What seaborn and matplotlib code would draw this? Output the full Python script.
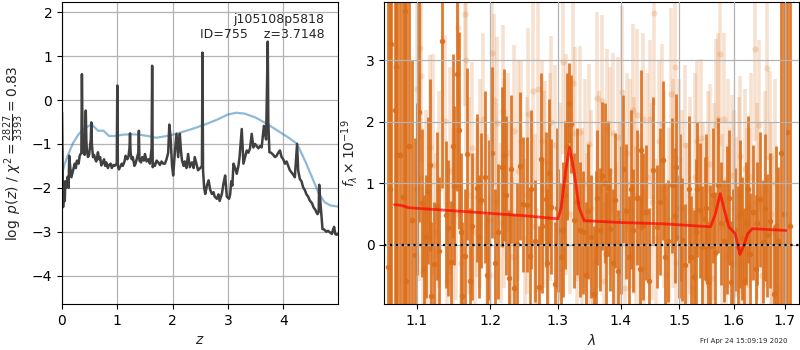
import numpy as np
import pandas as pd
import seaborn as sns
import matplotlib
matplotlib.use('Agg')
import matplotlib.pyplot as plt
from matplotlib.ticker import ScalarFormatter, NullLocator

# --- left panel: log p(z) and prior
z_grid = [0.0, 0.02, 0.03, 0.05, 0.06, 0.08, 0.10, 0.12, 0.13, 0.15, 0.17, 0.20, 0.23, 0.25,
          0.27, 0.30, 0.32, 0.35, 0.36, 0.37, 0.38, 0.41, 0.43, 0.44, 0.45, 0.47, 0.49, 0.52,
          0.53, 0.54, 0.56, 0.58, 0.60, 0.62, 0.65, 0.67, 0.69, 0.71, 0.74, 0.76, 0.78, 0.80,
          0.83, 0.85, 0.88, 0.90, 0.93, 0.95, 0.99, 1.00, 1.01, 1.03, 1.05, 1.08, 1.10, 1.13,
          1.15, 1.18, 1.20, 1.22, 1.23, 1.24, 1.26, 1.28, 1.31, 1.33, 1.36, 1.38, 1.39, 1.40,
          1.43, 1.45, 1.48, 1.50, 1.53, 1.56, 1.59, 1.62, 1.63, 1.64, 1.66, 1.68, 1.71, 1.74,
          1.77, 1.80, 1.83, 1.86, 1.89, 1.92, 1.94, 1.96, 1.99, 2.01, 2.04, 2.07, 2.10, 2.13,
          2.15, 2.17, 2.20, 2.22, 2.25, 2.28, 2.31, 2.35, 2.38, 2.40, 2.43, 2.46, 2.50, 2.53,
          2.54, 2.55, 2.57, 2.59, 2.62, 2.65, 2.68, 2.71, 2.74, 2.76, 2.80, 2.83, 2.85, 2.89,
          2.92, 2.95, 2.98, 3.02, 3.04, 3.06, 3.08, 3.10, 3.13, 3.16, 3.19, 3.21, 3.25, 3.28,
          3.31, 3.34, 3.37, 3.40, 3.43, 3.46, 3.49, 3.52, 3.55, 3.58, 3.61, 3.65, 3.69, 3.71,
          3.72, 3.73, 3.75, 3.78, 3.82, 3.85, 3.88, 3.91, 3.94, 3.97, 4.00, 4.03, 4.06, 4.09,
          4.12, 4.15, 4.18, 4.21, 4.25, 4.27, 4.30, 4.33, 4.36, 4.39, 4.42, 4.45, 4.48, 4.52,
          4.55, 4.58, 4.60, 4.62, 4.64, 4.65, 4.67, 4.71, 4.74, 4.78, 4.81, 4.85, 4.88, 4.90,
          4.92, 4.94, 4.96, 4.99]
log_pz = [-0.28, -2.44, -2.1, -2.3, -1.85, -1.99, -1.75, -2.0, -1.27, -1.55, -1.76, -1.6, -1.45, -1.55,
          -1.38, -1.45, -1.27, -1.2, 0.59, -0.6, -1.19, -1.25, -0.24, -0.9, -1.15, -1.3, -1.25, -0.9,
          -0.51, -1.0, -1.3, -1.25, -1.35, -1.4, -1.19, -1.35, -1.3, -1.49, -1.42, -1.35, -1.5, -1.42,
          -1.55, -1.48, -1.45, -1.55, -1.48, -1.5, -1.45, 0.33, -1.5, -1.58, -1.53, -1.45, -1.5, -1.4,
          -1.27, -1.35, -1.3, -1.1, -0.76, -1.2, -1.35, -1.3, -1.5, -1.45, -1.3, -1.2, -0.70, -1.38,
          -1.42, -1.3, -1.38, -1.23, -1.4, -1.35, -1.45, -1.1, 0.78, -1.53, -1.45, -1.5, -1.38, -1.42,
          -1.48, -1.4, -1.45, -1.45, -1.35, -1.2, -0.56, -0.8, -1.5, -1.72, -1.2, -0.77, -1.3, -0.77,
          -1.15, -1.38, -1.5, -1.4, -1.55, -1.23, -1.53, -1.42, -1.55, -1.3, -1.45, -1.6, -1.55, -1.5,
          1.08, -1.6, -2.0, -2.14, -1.95, -1.83, -2.05, -2.14, -2.1, -2.2, -2.25, -2.15, -2.3, -2.14,
          -1.9, -1.72, -2.2, -2.25, -2.15, -1.85, -1.95, -1.45, -1.55, -1.68, -1.5, -1.3, -0.66, -1.45,
          -1.3, -1.15, -1.2, -1.1, -0.77, -1.08, -1.0, -1.05, -1.1, -1.05, -1.08, -0.59, -0.9, 0.6,
          1.33, -0.5, -1.19, -1.2, -1.25, -1.3, -1.27, -1.2, -1.15, -1.3, -1.35, -1.45, -1.4, -1.5,
          -1.6, -1.65, -1.7, -1.76, -1.0, -1.6, -1.8, -1.85, -1.99, -2.05, -2.15, -2.2, -2.29, -2.35,
          -2.45, -2.5, -2.56, -2.6, -2.55, -1.93, -2.3, -2.94, -2.95, -3.0, -2.98, -3.02, -3.05, -2.95,
          -2.89, -3.05, -3.07, -3.05]

z_prior = [0.0, 0.05, 0.10, 0.20, 0.30, 0.40, 0.50, 0.55, 0.65, 0.75, 0.85, 0.95, 1.10, 1.25,
           1.40, 1.55, 1.70, 1.85, 2.00, 2.20, 2.40, 2.60, 2.80, 3.00, 3.15, 3.30, 3.50, 3.70,
           3.90, 4.00, 4.10, 4.25, 4.40, 4.55, 4.65, 4.75, 4.85, 5.00]
log_prior = [-1.70, -1.45, -1.28, -0.98, -0.78, -0.65, -0.58, -0.57, -0.70, -0.70, -0.82, -0.82, -0.79, -0.78,
             -0.79, -0.82, -0.86, -0.83, -0.79, -0.72, -0.64, -0.55, -0.45, -0.33, -0.29, -0.31, -0.40, -0.54,
             -0.70, -0.78, -0.86, -1.00, -1.40, -1.85, -2.15, -2.33, -2.40, -2.43]

# --- right panel: spectrum (dark = primary, light = secondary) and model
lam_dark = [1.0635, 1.0678, 1.0720, 1.0755, 1.0790, 1.0820, 1.0854, 1.0897, 1.0940, 1.0980,
            1.1037, 1.1074, 1.1128, 1.1150, 1.1196, 1.1232, 1.1272, 1.1340, 1.1387, 1.1422,
            1.1459, 1.1504, 1.1536, 1.1568, 1.1613, 1.1650, 1.1681, 1.1750, 1.1809, 1.1845,
            1.1877, 1.1950, 1.2024, 1.2114, 1.2164, 1.2203, 1.2263, 1.2303, 1.2388, 1.2437,
            1.2478, 1.2527, 1.2576, 1.2651, 1.2710, 1.2761, 1.2811, 1.2860, 1.2900, 1.2949,
            1.3000, 1.3079, 1.3104, 1.3167, 1.3199, 1.3253, 1.3341, 1.3395, 1.3474, 1.3526,
            1.3569, 1.3621, 1.3657, 1.3695, 1.3763, 1.3799, 1.3831, 1.3910, 1.3957, 1.4047,
            1.4092, 1.4144, 1.4203, 1.4277, 1.4347, 1.4421, 1.4549, 1.4607, 1.4723, 1.4809,
            1.4879, 1.4924, 1.4953, 1.4993, 1.5054, 1.5113, 1.5209, 1.5263, 1.5329, 1.5371,
            1.5414, 1.5461, 1.5522, 1.5569, 1.5612, 1.5653, 1.5712, 1.5761, 1.5820, 1.5910,
            1.5953, 1.6033, 1.6077, 1.6160, 1.6245, 1.6309, 1.6375, 1.6452, 1.6516, 1.6568,
            1.6646, 1.6710, 1.6774, 1.6871, 1.6923, 1.6981, 1.7045, 1.7100,
            1.1010, 1.1100, 1.1170, 1.1300, 1.1480, 1.1590, 1.1720, 1.1920, 1.1990, 1.2070,
            1.2230, 1.2350, 1.2600, 1.2740, 1.2830, 1.2980, 1.3050, 1.3140, 1.3300, 1.3440,
            1.3600, 1.3740, 1.3880, 1.4010, 1.4180, 1.4320, 1.4380, 1.4480, 1.4660, 1.4760,
            1.5020, 1.5170, 1.5300, 1.5490, 1.5870, 1.5990, 1.6120, 1.6200, 1.6280, 1.6420,
            1.6600, 1.6820, 1.0660, 1.0740, 1.0870]
flux_dark = [-0.37, 3.27, 2.20, 1.46, 1.46, 0.78, 3.80, 1.60, 0.40, -0.17,
             2.16, 0.68, 0.13, 0.88, -0.83, -0.31, 0.63, 3.32, 0.49, 0.27,
             -0.29, 0.96, 2.78, 1.86, -0.84, -0.19, 1.47, 0.30, 0.92, 0.13,
             0.72, -0.50, 1.50, 0.21, 1.26, 1.46, -0.54, 1.23, 0.01, 1.28,
             0.66, 0.65, -0.19, 0.06, -0.69, 0.31, 0.74, 1.17, 0.62, -0.64,
             0.23, 0.24, 0.81, 2.30, 1.97, 0.40, 0.24, 0.20, 0.54, 0.13,
             -0.80, 0.76, 0.24, 1.12, -0.15, 0.92, 0.25, 0.72, -0.43, 1.23,
             0.54, -0.21, 0.23, 0.76, 1.54, 0.53, 1.21, 0.29, 1.37, 0.06,
             0.97, 0.47, 1.26, 0.13, 0.08, -0.34, -0.21, -0.53, 0.90, 0.56,
             -0.04, 0.42, -0.61, -0.03, 0.80, -0.14, 0.97, 0.35, 0.06, 0.76,
             -0.61, 0.24, -0.04, 0.10, 0.35, -0.16, 0.53, 0.35, 0.74, 0.05,
             0.15, 0.39, -0.80, 0.06, 1.50, 0.50, 1.83, 0.30,
             0.90, -0.40, 1.30, -0.10, 1.60, 0.20, -0.60, 1.10, 0.40, -0.30,
             0.80, -0.70, 0.90, 1.40, -0.30, 0.60, -0.20, 1.60, 0.70, -0.50,
             0.00, 1.00, -0.30, 0.40, 0.90, -0.40, 0.30, -0.60, 0.70, -0.20,
             0.60, 0.90, 0.20, 0.60, 0.40, -0.30, 0.50, -0.60, 0.90, -0.40,
             0.60, 0.30, 0.90, 2.90, -0.60]
err_dark = [5.0, 5.0, 5.0, 5.0, 5.0, 5.0, 5.0, 5.0, 2.6, 1.9,
            1.8, 1.2, 1.0, 1.2, 1.2, 1.0, 1.2, 2.4, 1.2, 1.1,
            1.0, 1.3, 1.9, 1.6, 1.2, 1.1, 1.4, 1.2, 1.2, 1.0,
            1.1, 1.0, 1.4, 1.1, 1.3, 1.4, 1.1, 1.2, 1.0, 1.2,
            1.1, 1.1, 1.1, 1.0, 1.0, 1.1, 1.1, 1.2, 1.1, 1.0,
            1.0, 1.1, 1.2, 0.65, 0.8, 1.1, 1.1, 1.0, 1.1, 1.0,
            1.1, 1.1, 1.0, 1.2, 1.0, 1.1, 1.0, 1.1, 1.0, 1.2,
            1.1, 1.0, 1.0, 1.1, 1.3, 1.1, 1.2, 1.0, 1.3, 1.0,
            1.1, 1.1, 1.2, 1.0, 1.0, 1.0, 1.0, 1.1, 1.1, 1.1,
            1.0, 1.0, 1.0, 1.0, 1.1, 1.0, 1.1, 1.0, 1.0, 1.1,
            1.0, 1.0, 1.0, 1.0, 1.0, 1.0, 1.1, 1.0, 1.1, 1.0,
            1.0, 1.1, 1.1, 1.2, 2.8, 5.0, 5.0, 5.0,
            1.4, 1.2, 1.4, 1.2, 1.5, 1.3, 1.2, 1.4, 1.3, 1.2,
            1.3, 1.2, 1.3, 1.4, 1.2, 1.3, 1.2, 1.2, 1.2, 1.2,
            1.2, 1.3, 1.2, 1.2, 1.3, 1.2, 1.2, 1.2, 1.2, 1.2,
            1.2, 1.2, 1.2, 1.2, 1.2, 1.2, 1.2, 1.2, 1.2, 1.2,
            1.2, 1.3, 5.0, 5.0, 5.0]

lam_light = [1.1000, 1.1050, 1.1060, 1.1080, 1.1170, 1.1180, 1.1250, 1.1370, 1.1400, 1.1520,
             1.1550, 1.1600, 1.1650, 1.1660, 1.1740, 1.1780, 1.1820, 1.1900, 1.2000, 1.2030,
             1.2050, 1.2100, 1.2150, 1.2180, 1.2260, 1.2320, 1.2350, 1.2450, 1.2500, 1.2550,
             1.2620, 1.2680, 1.2700, 1.2760, 1.2810, 1.2850, 1.2900, 1.2950, 1.3000, 1.3080,
             1.3180, 1.3230, 1.3270, 1.3300, 1.3350, 1.3450, 1.3490, 1.3550, 1.3610, 1.3690,
             1.3720, 1.3780, 1.3880, 1.3920, 1.3960, 1.4030, 1.4070, 1.4110, 1.4200, 1.4250,
             1.4280, 1.4370, 1.4400, 1.4500, 1.4570, 1.4600, 1.4650, 1.4710, 1.4780, 1.4860,
             1.4930, 1.4950, 1.5000, 1.5100, 1.5150, 1.5250, 1.5320, 1.5390, 1.5500, 1.5560,
             1.5600, 1.5670, 1.5710, 1.5750, 1.5820, 1.5850, 1.5970, 1.6050, 1.6130, 1.6150,
             1.6220, 1.6300, 1.6410, 1.6480, 1.6550, 1.6650, 1.6700, 1.6750, 1.6850,
             1.1030, 1.1120, 1.1210, 1.1290, 1.1440, 1.1490, 1.1700, 1.1860, 1.1960, 1.2080,
             1.2200, 1.2290, 1.2400, 1.2530, 1.2650, 1.2790, 1.2880, 1.3030, 1.3130, 1.3380,
             1.3420, 1.3520, 1.3650, 1.3820, 1.3990, 1.4150, 1.4230, 1.4330, 1.4450, 1.4530,
             1.4740, 1.4830, 1.4900, 1.5050, 1.5200, 1.5280, 1.5440, 1.5530, 1.5640, 1.5780,
             1.5900, 1.6000, 1.6100, 1.6260, 1.6340, 1.6450, 1.6600, 1.6730, 1.6800]
flux_light = [2.53, 3.20, 2.74, -0.45, -0.05, 1.59, 0.20, 2.01, -0.60, 0.50,
              3.53, -0.30, 3.75, 3.01, 1.58, 0.20, 0.77, 2.04, -0.50, 3.12,
              2.35, 1.98, 0.35, 2.17, 1.50, -0.20, 1.85, 1.69, 0.10, 2.12,
              2.50, -0.70, 2.54, 1.69, 1.36, 0.05, 2.00, 1.62, -0.40, 2.98,
              0.50, 2.64, 1.82, -0.55, 1.84, 0.20, 1.64, -0.30, 2.39, 2.34,
              -0.60, 1.89, 1.82, 0.05, 1.75, 2.49, -0.70, 1.50, 2.20, 0.30,
              2.11, 2.04, -0.40, 2.04, 3.77, 0.10, 1.69, 1.97, -0.50, 2.46,
              2.90, -0.30, 1.39, 1.63, 0.35, -0.70, 1.69, 1.73, 0.15, 1.31,
              -0.55, 1.95, 2.05, 3.10, 2.04, -0.20, 1.14, 0.45, 1.44, -0.30,
              1.23, 0.60, 3.19, 1.94, -0.50, 2.88, 1.42, 0.20, -0.70,
              1.10, 0.60, 1.30, 0.90, 1.20, 0.40, 0.80, 1.00, 0.30, 0.70,
              1.00, 0.50, 1.20, 0.80, 0.30, 0.90, 1.10, 0.70, 1.30, 0.40,
              1.00, 0.60, 0.90, 1.20, 0.50, 1.00, 0.80, 0.30, 1.10, 0.70,
              0.90, 0.40, 1.00, 0.60, 0.80, 1.10, 0.50, 0.90, 0.70, 0.30,
              1.00, 0.60, 0.80, 0.40, 1.10, 0.70, 0.90, 0.50, 1.00]
err_light = [1.6, 1.5, 1.4, 1.4, 1.3, 1.5, 1.3, 1.4, 1.3, 1.4,
             1.6, 1.3, 1.5, 1.5, 1.4, 1.3, 1.3, 1.4, 1.3, 1.5,
             1.4, 1.4, 1.3, 1.4, 1.3, 1.3, 1.4, 1.3, 1.3, 1.4,
             1.5, 1.3, 1.5, 1.3, 1.3, 1.3, 1.4, 1.3, 1.3, 1.5,
             1.3, 1.5, 1.4, 1.3, 1.4, 1.3, 1.3, 1.3, 1.4, 1.4,
             1.3, 1.3, 1.3, 1.3, 1.3, 1.4, 1.3, 1.3, 1.4, 1.3,
             1.4, 1.4, 1.3, 1.3, 1.5, 1.3, 1.3, 1.3, 1.3, 1.4,
             1.5, 1.3, 1.3, 1.3, 1.3, 1.3, 1.3, 1.3, 1.3, 1.3,
             1.3, 1.4, 1.4, 1.5, 1.4, 1.3, 1.3, 1.3, 1.3, 1.3,
             1.3, 1.3, 1.5, 1.4, 1.3, 1.5, 1.4, 1.3, 1.4,
             1.7, 1.6, 1.8, 1.6, 1.7, 1.5, 1.6, 1.7, 1.5, 1.6,
             1.7, 1.5, 1.8, 1.6, 1.5, 1.6, 1.7, 1.6, 1.8, 1.5,
             1.7, 1.6, 1.6, 1.7, 1.5, 1.7, 1.6, 1.5, 1.7, 1.6,
             1.6, 1.5, 1.7, 1.6, 1.6, 1.7, 1.5, 1.6, 1.6, 1.5,
             1.7, 1.6, 1.6, 1.5, 1.7, 1.6, 1.6, 1.5, 1.7]

lam_model = [1.0715, 1.0800, 1.0905, 1.1500, 1.2500, 1.3000, 1.3050, 1.3120, 1.3180, 1.3250,
             1.3330, 1.3410, 1.4000, 1.4690, 1.5570, 1.5660, 1.5750, 1.5830, 1.5910, 1.6030,
             1.6120, 1.6200, 1.6270, 1.6360, 1.7020]
flux_model = [0.65, 0.64, 0.60, 0.55, 0.47, 0.42, 0.60, 1.20, 1.58, 1.20,
              0.60, 0.39, 0.36, 0.34, 0.29, 0.50, 0.83, 0.55, 0.29, 0.18,
              -0.16, 0.00, 0.18, 0.26, 0.23]

title_lines = 'j105108p5818\nID=755    z=3.7148'
timestamp = 'Fri Apr 24 15:09:19 2020'

sns.set_style('ticks')
plt.rcParams['font.family'] = ['DejaVu Sans']
plt.rcParams['axes.edgecolor'] = 'black'
plt.rcParams['xtick.color'] = 'black'
plt.rcParams['ytick.color'] = 'black'

fig = plt.figure(figsize=(8, 3.5), dpi=100)
ax1 = fig.add_axes([0.0775, 0.131, 0.345, 0.863])
ax2 = fig.add_axes([0.4805, 0.131, 0.5185, 0.863])

pz = pd.DataFrame({'z': z_grid, 'logp': log_pz})
pr = pd.DataFrame({'z': z_prior, 'logp': log_prior})
sns.lineplot(data=pr, x='z', y='logp', ax=ax1, color='tab:blue', alpha=0.5, lw=1.6)
sns.lineplot(data=pz, x='z', y='logp', ax=ax1, color='0.25', lw=1.8)
ax1.set_xlim(0, 4.99)
ax1.set_ylim(-4.65, 2.23)
ax1.set_xticks([0, 1, 2, 3, 4])
ax1.set_yticks([-4, -3, -2, -1, 0, 1, 2])
ax1.grid(True, color='0.7', lw=0.9)
ax1.set_xlabel('$z$')
ax1.set_ylabel(r'$\log\ p(z)$ / $\chi^2=\frac{2827}{3393}=0.83$')
ax1.text(0.95, 0.965, title_lines, ha='right', va='top', transform=ax1.transAxes, fontsize=9)

orange = (0.86, 0.43, 0.1)
ax2.errorbar(lam_light, flux_light, yerr=err_light, fmt='o', color=orange, alpha=0.2,
             ms=4.5, elinewidth=2.6, capsize=0, mec='none')
ax2.errorbar(lam_dark, flux_dark, yerr=err_dark, fmt='o', color=orange, alpha=0.9,
             ms=4, elinewidth=2.0, capsize=0, mec='none')
sns.lineplot(x=lam_model, y=flux_model, ax=ax2, color='red', alpha=0.7, lw=2, zorder=5)
ax2.axhline(0, color='k', ls=':', lw=1.6, zorder=6)
ax2.set_xscale('log')
ax2.set_xlim(1.059, 1.729)
ax2.set_ylim(-0.97, 3.95)
ax2.xaxis.set_minor_locator(NullLocator())
ax2.set_xticks([1.1, 1.2, 1.3, 1.4, 1.5, 1.6, 1.7])
ax2.xaxis.set_major_formatter(ScalarFormatter())
ax2.set_yticks([0, 1, 2, 3])
ax2.set_axisbelow(False)
ax2.grid(True, color='0.7', lw=0.9)
ax2.set_xlabel(r'$\lambda$')
ax2.set_ylabel(r'$f_\lambda\times10^{-19}$')

fig.text(0.985, 0.018, timestamp, ha='right', va='bottom', fontsize=5)

fig.savefig('out.png', dpi=100)
